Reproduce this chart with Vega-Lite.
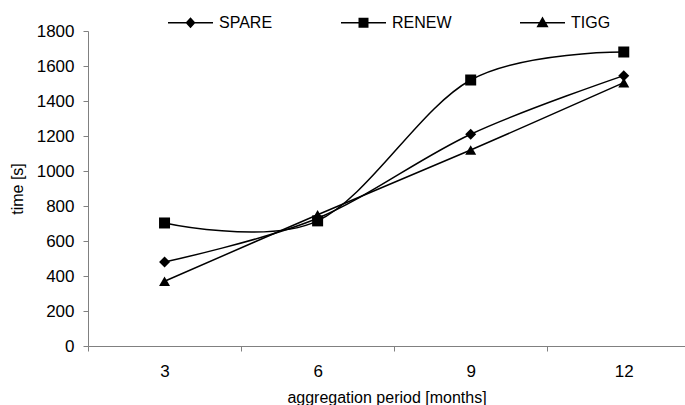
{
  "$schema": "https://vega.github.io/schema/vega-lite/v6.json",
  "width": 597,
  "height": 315,
  "autosize": {"type": "none"},
  "padding": {"left": 88, "top": 31, "right": 0, "bottom": 59},
  "background": "white",
  "config": {
    "view": {"stroke": null},
    "font": "Liberation Sans",
    "axis": {
      "domainColor": "#808080",
      "tickColor": "#808080",
      "labelColor": "#000000",
      "titleColor": "#000000",
      "labelFont": "Liberation Sans",
      "titleFont": "Liberation Sans",
      "labelFontSize": 17,
      "titleFontSize": 16,
      "titleFontWeight": "normal",
      "grid": false,
      "tickSize": 5,
      "domainWidth": 1,
      "tickWidth": 1
    },
    "legend": {"padding": 0}
  },
  "data": {
    "values": [
      {"period": 3, "series": "SPARE", "time": 480},
      {"period": 6, "series": "SPARE", "time": 730},
      {"period": 9, "series": "SPARE", "time": 1210},
      {"period": 12, "series": "SPARE", "time": 1545},
      {"period": 3, "series": "RENEW", "time": 703},
      {"period": 6, "series": "RENEW", "time": 715},
      {"period": 9, "series": "RENEW", "time": 1520},
      {"period": 12, "series": "RENEW", "time": 1680},
      {"period": 3, "series": "TIGG", "time": 370},
      {"period": 6, "series": "TIGG", "time": 750},
      {"period": 9, "series": "TIGG", "time": 1120},
      {"period": 12, "series": "TIGG", "time": 1505}
    ]
  },
  "encoding": {
    "x": {
      "field": "period",
      "type": "quantitative",
      "scale": {"domain": [1.5, 13.2], "nice": false, "zero": false},
      "axis": {
        "title": "aggregation period [months]",
        "values": [1.5, 3, 4.5, 6, 7.5, 9, 10.5, 12],
        "labelExpr": "datum.value % 3 === 0 ? datum.label : ''",
        "tickOpacity": {"condition": {"test": "datum.value % 3 === 0", "value": 0}, "value": 1},
        "labelOverlap": false,
        "labelFlush": false,
        "labelPadding": 12,
        "titlePadding": 10
      }
    },
    "y": {
      "field": "time",
      "type": "quantitative",
      "scale": {"domain": [0, 1800], "nice": false},
      "axis": {
        "title": "time [s]",
        "values": [0, 200, 400, 600, 800, 1000, 1200, 1400, 1600, 1800],
        "format": "d",
        "labelPadding": 9,
        "titlePadding": 11
      }
    }
  },
  "layer": [
    {
      "mark": {"type": "line", "interpolate": "cardinal", "tension": 0, "color": "black", "strokeWidth": 1.5},
      "encoding": {"detail": {"field": "series", "type": "nominal"}}
    },
    {
      "mark": {"type": "point", "filled": true, "color": "black", "opacity": 1, "size": 121},
      "encoding": {
        "shape": {
          "field": "series",
          "type": "nominal",
          "scale": {"domain": ["SPARE", "RENEW", "TIGG"], "range": ["diamond", "square", "triangle-up"]},
          "legend": null
        }
      }
    },
    {
      "mark": {"type": "point", "filled": true, "color": "black", "opacity": 0, "size": 2025},
      "encoding": {
        "shape": {
          "field": "series",
          "type": "nominal",
          "scale": {
            "domain": ["SPARE", "RENEW", "TIGG"],
            "range": [
              "M-1,-0.034H1V0.034H-1ZM0,-0.244L0.222,0L0,0.244L-0.222,0Z",
              "M-1,-0.034H1V0.034H-1ZM-0.222,-0.222H0.222V0.222H-0.222Z",
              "M-1,-0.034H1V0.034H-1ZM0,-0.28L0.27,0.2L-0.27,0.2Z"
            ]
          },
          "legend": {
            "title": null,
            "orient": "none",
            "direction": "horizontal",
            "columns": 3,
            "legendX": 80,
            "legendY": -31,
            "symbolSize": 2025,
            "labelFont": "Liberation Sans",
            "labelFontSize": 16,
            "labelColor": "#000000",
            "labelOffset": 6,
            "columnPadding": 68,
            "symbolFillColor": "black",
            "symbolStrokeColor": "black",
            "symbolStrokeWidth": 0,
            "symbolOpacity": 1,
            "encode": {
              "symbols": {
                "update": {
                  "fill": {"value": "black"},
                  "opacity": {"value": 1}
                }
              }
            }
          }
        }
      }
    }
  ],
  "resolve": {"scale": {"shape": "independent"}, "legend": {"shape": "independent"}}
}
